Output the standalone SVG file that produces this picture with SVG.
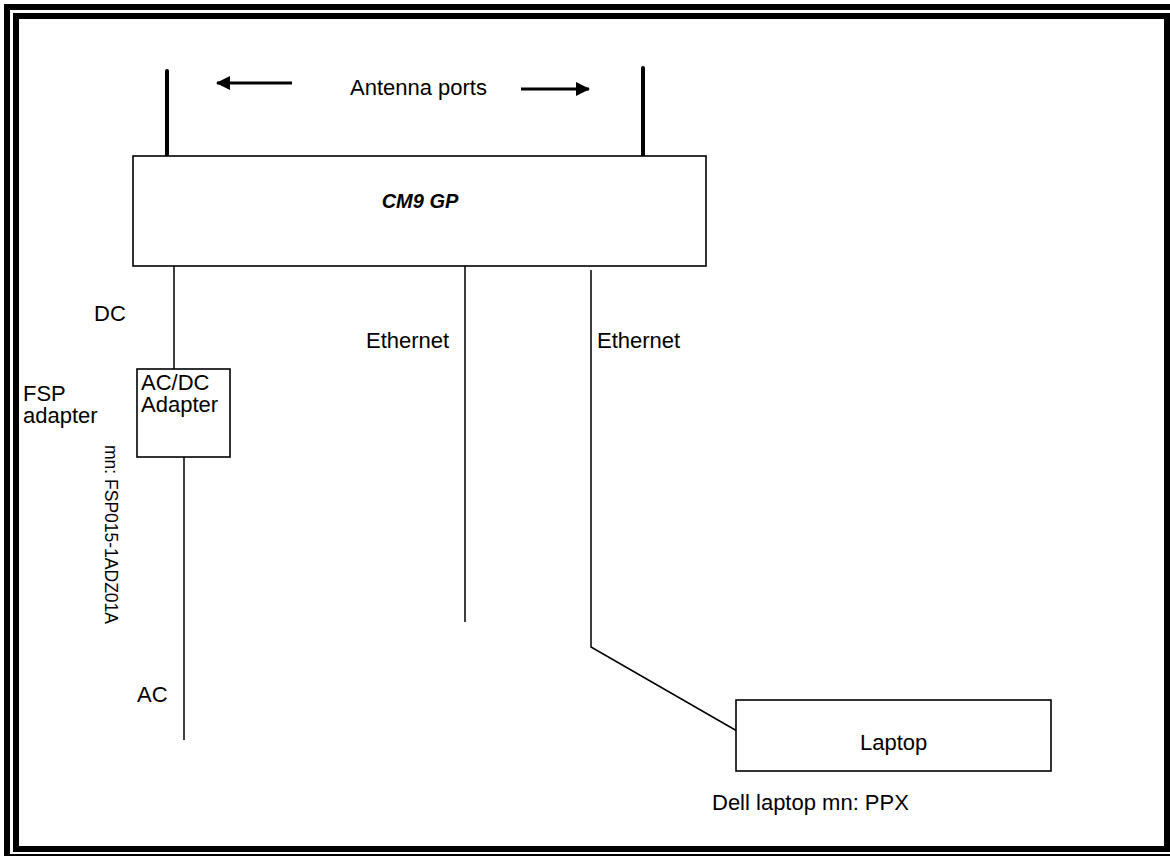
<svg xmlns="http://www.w3.org/2000/svg" width="1170" height="856" viewBox="0 0 1170 856">
<style>
  text { font-family: "Liberation Sans", Arial, sans-serif; font-size: 22px; fill: #000; }
  .box { fill: #fff; stroke: #000; stroke-width: 1.6; }
  .wire { stroke: #000; stroke-width: 1.5; fill: none; }
  .ant { stroke: #000; stroke-width: 4; stroke-linecap: round; }
  .arr { stroke: #000; stroke-width: 3; }
</style>
<defs>
  <marker id="ah" viewBox="0 0 14 14" refX="13" refY="7" markerWidth="14" markerHeight="14" markerUnits="userSpaceOnUse" orient="auto">
    <path d="M0,0 L14,7 L0,14 Z" fill="#000"/>
  </marker>
</defs>
<rect x="0" y="0" width="1170" height="856" fill="#fff"/>
<g id="border" fill="none" stroke="#000" stroke-width="6">
  <rect x="7" y="7" width="1170" height="850"/>
  <rect x="16" y="16" width="1151" height="833"/>
</g>
<g id="connectors">
  <line class="ant" x1="167" y1="71" x2="167" y2="156"/>
  <line class="ant" x1="643" y1="68" x2="643" y2="156"/>
  <line class="arr" x1="292" y1="83" x2="217" y2="83" marker-end="url(#ah)"/>
  <line class="arr" x1="521" y1="89" x2="589" y2="89" marker-end="url(#ah)"/>
  <line class="wire" x1="174" y1="266" x2="174" y2="369"/>
  <line class="wire" x1="184" y1="457" x2="184" y2="740"/>
  <line class="wire" x1="465" y1="266" x2="465" y2="622"/>
  <polyline class="wire" points="591,270 591,647 737,731"/>
</g>
<g id="cm9gp">
  <rect class="box" x="133" y="156" width="573" height="110"/>
  <text x="420" y="208" text-anchor="middle" font-weight="bold" font-style="italic" style="font-size:20px">CM9 GP</text>
</g>
<g id="antenna-label">
  <text x="350" y="95">Antenna ports</text>
</g>
<g id="adapter">
  <rect class="box" x="137" y="369" width="93" height="88"/>
  <text x="141" y="390">AC/DC</text>
  <text x="141" y="412">Adapter</text>
</g>
<g id="labels">
  <text x="94" y="321">DC</text>
  <text x="23" y="401">FSP</text>
  <text x="23" y="423">adapter</text>
  <text transform="translate(105,445) rotate(90)" style="font-size:17.5px">mn: FSP015-1ADZ01A</text>
  <text x="366" y="348">Ethernet</text>
  <text x="597" y="348">Ethernet</text>
  <text x="137" y="702">AC</text>
</g>
<g id="laptop">
  <rect class="box" x="736" y="700" width="315" height="71"/>
  <text x="860" y="750">Laptop</text>
  <text x="712" y="810">Dell laptop mn: PPX</text>
</g>
</svg>
